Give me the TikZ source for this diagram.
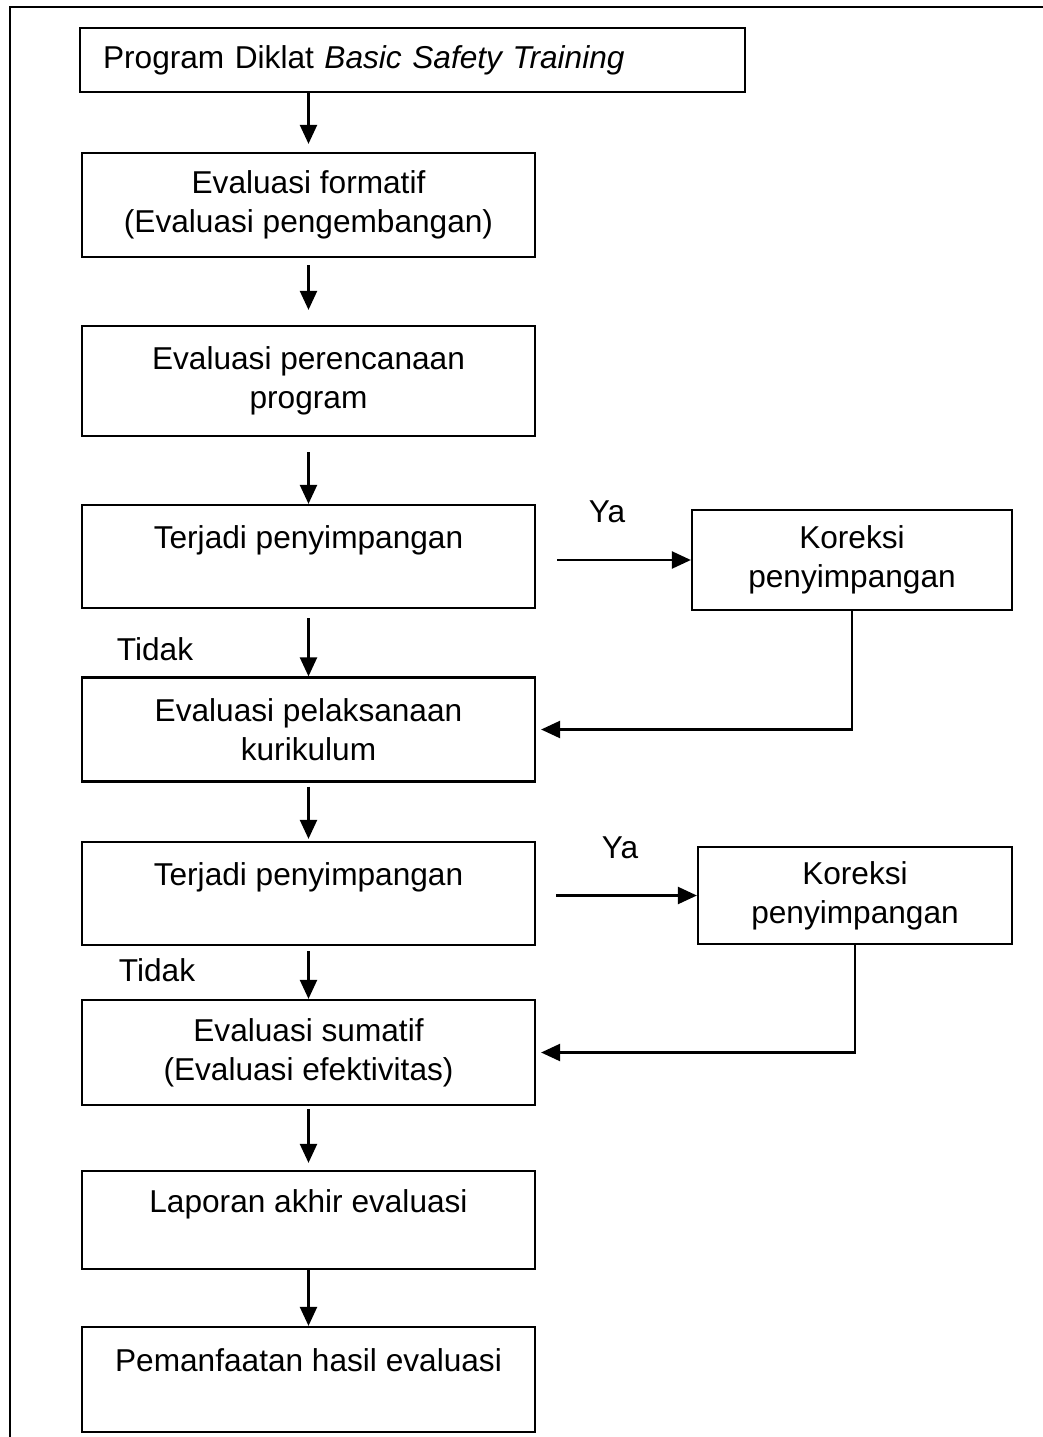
\documentclass[tikz,border=0pt]{standalone}
\usepackage{fontspec}
\setmainfont{Liberation Sans}
\usetikzlibrary{arrows.meta, positioning}

\begin{document}
\begin{tikzpicture}[x=0.02cm, y=-0.02cm, line width=1.3pt,
		every node/.style={font=\fontsize{18}{22}\selectfont},
		box/.style={draw, rectangle, align=center, inner sep=0pt, minimum width=9.06cm},
		arr/.style={-{Triangle[length=3.8mm, width=3.4mm]}}]
	\useasboundingbox (0,0) rectangle (1043,1437);
	\draw (10,1437) -- (10,7) -- (1043,7);

	% main column
	\node[draw, rectangle, align=left, inner xsep=0.46cm, inner ysep=0pt, text width=12.38cm, minimum height=1.28cm]
		(prog) at (412.5,60) {Program Diklat \textit{Basic Safety Training}};
	\node[box, minimum height=2.08cm] (formatif) at (308.5,205) {Evaluasi formatif\\(Evaluasi pengembangan)};
	\node[box, minimum height=2.2cm] (rencana) at (308.5,381) {Evaluasi perencanaan\\program};
	\node[box, minimum height=2.06cm] (simpang1) at (308.5,556.5) {Terjadi penyimpangan\\\mbox{}};
	\node[box, minimum height=2.08cm] (laksana) at (308.5,729.5) {Evaluasi pelaksanaan\\kurikulum};
	\node[box, minimum height=2.06cm] (simpang2) at (308.5,893.5) {Terjadi penyimpangan\\\mbox{}};
	\node[box, minimum height=2.1cm] (sumatif) at (308.5,1052.5) {Evaluasi sumatif\\(Evaluasi efektivitas)};
	\node[box, minimum height=1.96cm] (laporan) at (308.5,1220) {Laporan akhir evaluasi\\\mbox{}};
	\node[box, minimum height=2.1cm] (manfaat) at (308.5,1379.5) {Pemanfaatan hasil evaluasi\\\mbox{}};

	% side boxes
	\node[box, minimum width=6.4cm, minimum height=2cm] (koreksi1) at (852,560) {Koreksi\\penyimpangan};
	\node[box, minimum width=6.28cm, minimum height=1.94cm] (koreksi2) at (855,895.5) {Koreksi\\penyimpangan};

	\node (ya1) at (607,512) {Ya};
	\node (ya2) at (620,848) {Ya};
	\node (tidak1) at (155,649) {Tidak};
	\node (tidak2) at (157,970) {Tidak};

	\draw[arr, shorten >=1.6mm] (prog.south -| formatif.north) -- (formatif.north);
	\draw[arr, shorten <=1.4mm, shorten >=3mm] (formatif.south) -- (rencana.north);
	\draw[arr, shorten <=3mm] (rencana.south) -- (simpang1.north);
	\draw[arr, shorten <=1.8mm] (simpang1.south) -- (laksana.north);
	\draw[arr, shorten <=0.8mm, shorten >=0.4mm] (laksana.south) -- (simpang2.north);
	\draw[arr, shorten <=1mm] (simpang2.south) -- (sumatif.north);
	\draw[arr, shorten <=0.6mm, shorten >=1.4mm] (sumatif.south) -- (laporan.north);
	\draw[arr] (laporan.south) -- (manfaat.north);

	\draw[arr, shorten <=4.2mm] (simpang1.east |- koreksi1) -- (koreksi1.west);
	\draw[arr, shorten <=4mm] (simpang2.east |- koreksi2) -- (koreksi2.west);
	\draw[arr, shorten >=1mm] (koreksi1.south) |- (laksana.east);
	\draw[arr, shorten >=1mm] (koreksi2.south) |- (sumatif.east);
\end{tikzpicture}
\end{document}
